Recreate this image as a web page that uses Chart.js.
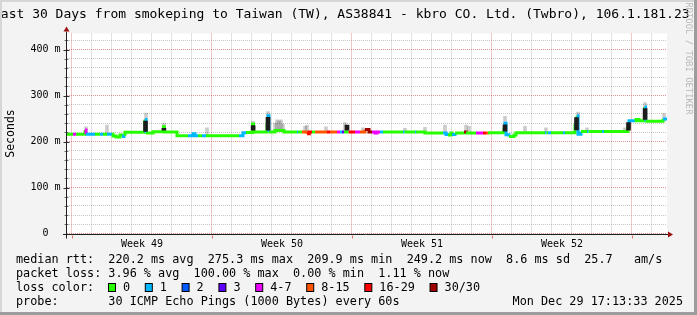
<!DOCTYPE html>
<html lang="en">
<head>
<meta charset="UTF-8">
<title>Last 30 Days from smokeping to Taiwan (TW)</title>
<script src="https://cdn.jsdelivr.net/npm/chart.js@4.4.1/dist/chart.umd.min.js"></script>
<style>
    html, body { margin: 0; padding: 0; background: #f3f3f3; }
    canvas { display: block; }
</style>
</head>
<body>
<canvas id="smoke" width="697" height="315"></canvas>
<script>
    // median rtt per time step (days since start), ms, and loss colour index
    const medT = [0.00, 0.30, 0.45, 0.90, 0.95, 1.40, 1.65, 1.80, 2.00, 2.25, 2.30, 2.45, 2.65, 2.75, 2.85, 2.90,
        3.90, 3.95, 4.30, 4.82, 4.87, 5.50, 6.05, 6.30, 6.40, 6.55, 6.75, 6.95, 8.60, 8.80, 8.95,
        9.28, 9.33, 10.00, 10.05, 10.10, 10.40, 10.85, 11.50, 11.55, 11.75, 12.00, 12.12, 12.25, 12.40, 13.00,
        13.15, 13.50, 13.65, 13.75, 13.85, 14.08, 14.40, 14.65, 14.90, 15.10, 15.25, 15.40, 15.50, 15.65, 15.80,
        16.80, 16.88, 17.40, 17.45, 17.90, 18.80, 18.95, 19.05, 19.20, 19.25, 19.40, 19.85, 19.95, 20.45, 20.80,
        20.95, 21.05, 21.85, 21.90, 21.95, 22.10, 22.35, 22.45, 23.90, 23.98, 24.05, 24.20, 24.80, 24.90,
        25.40, 25.45, 25.50, 25.55, 25.70, 26.00, 26.08, 26.75, 26.85, 28.05, 28.10, 28.30, 28.40, 28.45, 28.60,
        28.88, 28.93, 29.80, 30.00];
    const medV = [216, 216, 216, 225, 216, 216, 216, 216, 216, 216, 212, 210, 214, 211, 216, 220,
        248, 218.5, 221.5, 232, 221, 212.5, 212.5, 217, 212.5, 212.5, 212.5, 212.5, 212.5, 219, 219.5,
        238, 221, 240, 256, 221, 224, 221, 221, 221, 221, 217, 221, 221, 221, 221,
        221, 221, 221, 221, 221, 221, 221, 221, 226, 221, 221, 218.5, 221, 221, 221,
        221, 221, 221, 221, 218.5, 218.5, 215.5, 214.5, 218.5, 215.5, 218.5, 221, 218.5, 218.5, 218.5,
        218.5, 219, 230, 240, 215, 211, 214, 219, 219, 219, 219, 219, 219, 219,
        238, 228, 256, 216, 222, 222, 222, 222, 222, 233, 245, 245, 245, 248, 245,
        275, 244, 249, 249];
    const medLoss = [0, 4, 0, 4, 1, 0, 1, 0, 1, 0, 0, 0, 0, 1, 0, 0,
        1, 0, 0, 0, 0, 0, 1, 1, 1, 0, 1, 0, 1, 1, 0,
        0, 0, 1, 1, 0, 0, 0, 1, 0, 5, 6, 6, 0, 5, 6,
        5, 4, 1, 3, 0, 6, 4, 5, 7, 7, 4, 4, 4, 1, 0,
        1, 0, 1, 0, 0, 1, 1, 0, 0, 1, 0, 7, 0, 4, 6,
        5, 0, 1, 1, 1, 0, 0, 0, 1, 0, 1, 0, 1, 0,
        1, 0, 1, 1, 0, 1, 0, 1, 0, 1, 1, 1, 0, 0, 0,
        1, 0, 1, 1];

    // dense smoke columns (dark) and thin smoke (grey), low and high ms
    const darkT = [3.925, 4.845, 9.305, 10.05, 14.00, 21.90, 25.475, 28.075, 28.905];
    const darkLo = [222, 225, 224.5, 224.5, 224.5, 222.5, 225.5, 225, 248];
    const darkHi = [244.5, 228.5, 234.5, 252.5, 236, 236.5, 252, 241, 271.5];
    const lightT = [0.95, 2.00, 3.95, 4.85, 7.00, 9.30, 10.05, 10.40, 10.50, 10.60, 10.70, 10.80, 11.90, 12.00,
        12.95, 13.90, 14.80, 16.90, 17.90, 18.90, 19.95, 20.10, 21.90, 22.90, 23.95, 25.55, 26.00, 27.90, 28.90, 29.85];
    const lightLo = [216, 216, 219, 221, 213, 220, 220, 222, 222, 222, 222, 222, 221, 221,
        221, 221, 221, 221, 219, 218, 218, 218, 219, 219, 219, 219, 222, 222, 245, 244];
    const lightHi = [232, 236, 262, 240, 230, 244, 265, 240, 247, 245, 247, 238, 233, 235,
        232, 241, 230, 229, 231, 236, 236, 233, 255, 233, 230, 264, 230, 230, 285, 261];

    const lossLabels = ['0', '1', '2', '3', '4-7', '8-15', '16-29', '30/30'];
    const lossColors = ['#26ff00', '#00b8ff', '#0059ff', '#5e00ff', '#ee00ff', '#ff5500', '#ff0000', '#a00000'];

    const yLabelVals = [0, 100, 200, 300, 400];
    const yLabels = ['0  ', '100 m', '200 m', '300 m', '400 m'];
    const weekLabels = ['Week 49', 'Week 50', 'Week 51', 'Week 52'];
    const weekLabelAt = [3.75, 10.75, 17.75, 24.75];
    const firstDayLine = 0.225;

    const titleText = 'Last 30 Days from smokeping to Taiwan (TW), AS38841 - kbro CO. Ltd. (Twbro), 106.1.181.23';
    const legendLines = [
        'median rtt:  220.2 ms avg  275.3 ms max  209.9 ms min  249.2 ms now  8.6 ms sd  25.7   am/s',
        'packet loss: 3.96 % avg  100.00 % max  0.00 % min  1.11 % now',
        'loss color:',
        'probe:       30 ICMP Echo Pings (1000 Bytes) every 60s'
    ];
    const stampText = 'Mon Dec 29 17:13:33 2025';

    const MONO = '"DejaVu Sans Mono", monospace';
    const GRID = 'rgba(160,160,160,0.6)';
    const MGRID = 'rgba(215,110,110,0.75)';

    const dayLines = [];
    for (let d = 0; d < 30; d++) dayLines.push(firstDayLine + d);
    const yLines = [];
    for (let v = 0; v <= 420; v += 20) yLines.push(v);

    const median = medT.map((t, i) => ({ x: t, y: medV[i] }));
    const dark = darkT.map((t, i) => ({ x: t, y: [darkLo[i], darkHi[i]] }));
    const light = lightT.map((t, i) => ({ x: t, y: [lightLo[i], lightHi[i]] }));

    const rrdLook = {
        id: 'rrdLook',
        beforeDraw(chart) {
            const { ctx, width, height, chartArea: a } = chart;
            ctx.save();
            ctx.fillStyle = '#f3f3f3';
            ctx.fillRect(0, 0, width, height);
            ctx.fillStyle = '#ffffff';
            ctx.fillRect(a.left, a.top, a.right - a.left, a.bottom - a.top);
            ctx.restore();
        },
        afterDraw(chart) {
            const { ctx, width, height, chartArea: a } = chart;
            const xs = chart.scales.x, ys = chart.scales.y;
            const y0 = Math.round(ys.getPixelForValue(0)) + 0.5;
            const xAx = a.left - 0.5;
            ctx.save();

            // ticks on the axes
            ctx.lineWidth = 1;
            yLines.forEach(v => {
                const py = Math.round(ys.getPixelForValue(v)) + 0.5;
                const big = v % 100 === 0;
                ctx.strokeStyle = big ? '#303030' : '#707070';
                ctx.beginPath();
                ctx.moveTo(xAx - (big ? 3 : 2), py);
                ctx.lineTo(xAx + (big ? 3 : 2), py);
                ctx.stroke();
            });
            dayLines.forEach((v, i) => {
                if (i % 7) return;
                const px = Math.round(xs.getPixelForValue(v)) + 0.5;
                ctx.strokeStyle = '#e07070';
                ctx.beginPath();
                ctx.moveTo(px, y0 + 1);
                ctx.lineTo(px, y0 + 4);
                ctx.stroke();
            });

            // axes with arrows
            ctx.strokeStyle = '#202020';
            ctx.beginPath();
            ctx.moveTo(xAx, y0 + 4);
            ctx.lineTo(xAx, a.top - 2);
            ctx.moveTo(a.left - 4, y0);
            ctx.lineTo(a.right + 1, y0);
            ctx.stroke();
            ctx.fillStyle = '#9b1010';
            ctx.beginPath();
            ctx.moveTo(xAx - 3, a.top - 2);
            ctx.lineTo(xAx + 3, a.top - 2);
            ctx.lineTo(xAx, a.top - 7);
            ctx.closePath();
            ctx.fill();
            ctx.beginPath();
            ctx.moveTo(a.right + 1, y0 - 3);
            ctx.lineTo(a.right + 1, y0 + 3);
            ctx.lineTo(a.right + 6, y0);
            ctx.closePath();
            ctx.fill();

            // title
            ctx.fillStyle = '#000';
            ctx.textBaseline = 'alphabetic';
            ctx.textAlign = 'left';
            ctx.font = '13px ' + MONO;
            ctx.fillText(titleText, -7, 18.3);

            // legend
            ctx.font = '11.8px ' + MONO;
            const rowY = [263, 277, 291, 305];
            legendLines.forEach((s, i) => ctx.fillText(s, 16, rowY[i]));
            let cx = 108.5;
            lossLabels.forEach((lab, i) => {
                ctx.fillStyle = lossColors[i];
                ctx.fillRect(cx, 283.5, 7, 8);
                ctx.strokeStyle = '#000';
                ctx.strokeRect(cx, 283.5, 7, 8);
                ctx.fillStyle = '#000';
                ctx.fillText(lab, cx + 14.5, rowY[2]);
                cx += 14.5 + ctx.measureText(lab).width + 15.2;
            });
            ctx.textAlign = 'right';
            ctx.fillText(stampText, 683, rowY[3]);

            // watermark
            ctx.save();
            ctx.translate(688, -3);
            ctx.rotate(Math.PI / 2);
            ctx.textAlign = 'left';
            ctx.textBaseline = 'middle';
            ctx.font = '8.9px ' + MONO;
            ctx.fillStyle = '#b8b8b8';
            ctx.fillText('RRDTOOL / TOBI OETIKER', 0, 0);
            ctx.restore();

            // 3d frame
            ctx.fillStyle = '#d6d6d6';
            ctx.fillRect(0, 0, width, 2);
            ctx.fillRect(0, 0, 2, height);
            ctx.fillStyle = '#9c9c9c';
            ctx.fillRect(0, height - 3, width, 3);
            ctx.fillRect(width - 3, 0, 3, height);
            ctx.restore();
        }
    };

    new Chart(document.getElementById('smoke'), {
        type: 'line',
        data: {
            datasets: [
                {
                    type: 'bar',
                    data: dark,
                    backgroundColor: '#1c1c1c',
                    borderWidth: 0,
                    barThickness: 4,
                    grouped: false,
                    order: 0
                },
                {
                    type: 'line',
                    data: median,
                    stepped: 'before',
                    borderWidth: 3,
                    borderColor: lossColors[0],
                    borderCapStyle: 'butt',
                    pointRadius: 0,
                    clip: 0,
                    order: 1,
                    segment: { borderColor: c => lossColors[medLoss[c.p0DataIndex]] }
                },
                {
                    type: 'bar',
                    data: light,
                    backgroundColor: 'rgba(0,0,0,0.2)',
                    borderWidth: 0,
                    barThickness: 3,
                    grouped: false,
                    order: 2
                }
            ]
        },
        options: {
            responsive: false,
            animation: false,
            events: [],
            layout: { padding: { top: 33.5, right: 30, bottom: 0, left: 0 } },
            plugins: { legend: { display: false }, tooltip: { enabled: false } },
            scales: {
                x: {
                    type: 'linear', min: 0, max: 30, offset: false,
                    grid: { offset: false, drawTicks: false, lineWidth: 1, color: c => c.index % 7 === 0 ? MGRID : GRID },
                    border: { display: false, dash: [1, 1] },
                    ticks: { display: false },
                    afterBuildTicks: s => { s.ticks = dayLines.map(v => ({ value: v })); },
                    afterFit: s => { s.height = 0; }
                },
                x2: {
                    type: 'linear', position: 'bottom', min: 0, max: 30, offset: false,
                    grid: { display: false, drawTicks: false },
                    border: { display: false },
                    ticks: {
                        autoSkip: false, maxRotation: 0, padding: 5, color: '#000',
                        font: { family: MONO, size: 10 },
                        callback: (v, i) => weekLabels[i]
                    },
                    afterBuildTicks: s => { s.ticks = weekLabelAt.map(v => ({ value: v })); },
                    afterFit: s => { s.height = 81.5; }
                },
                y: {
                    type: 'linear', min: 0, max: 435,
                    grid: { drawTicks: false, lineWidth: 1, color: c => c.tick.value % 100 === 0 ? MGRID : GRID },
                    border: { display: false, dash: [1, 1] },
                    ticks: {
                        autoSkip: false, padding: 6.5, color: '#000',
                        font: { family: MONO, size: 10 },
                        callback: v => { const k = yLabelVals.indexOf(v); return k < 0 ? '' : yLabels[k]; }
                    },
                    title: { display: true, text: 'Seconds', color: '#000', font: { family: MONO, size: 11.5 }, padding: { top: 4, bottom: 0 } },
                    afterBuildTicks: s => { s.ticks = yLines.map(v => ({ value: v })); },
                    afterFit: s => { s.width = 67; }
                }
            }
        },
        plugins: [rrdLook]
    });
</script>
</body>
</html>
